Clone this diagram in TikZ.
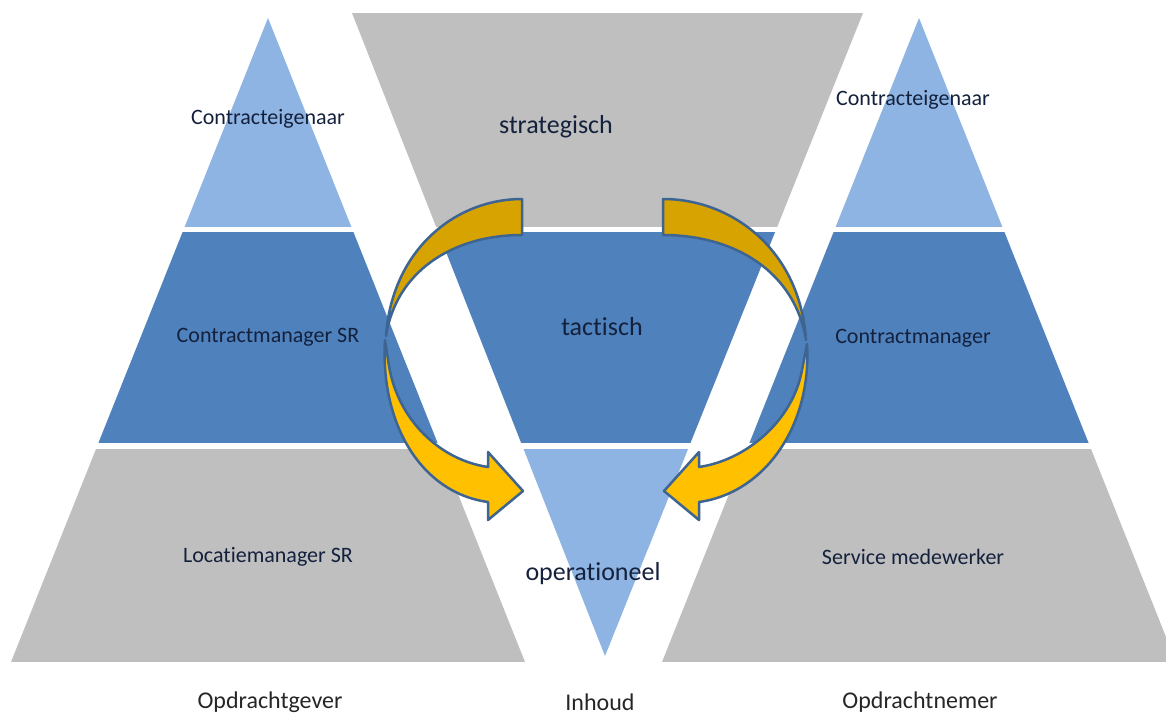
\documentclass[tikz,border=0pt]{standalone}
\usepackage{fontspec}
\setmainfont{Carlito}[Ligatures=NoCommon]
\definecolor{lightb}{HTML}{8EB4E3}
\definecolor{darkb}{HTML}{4F81BD}
\definecolor{greyb}{HTML}{BFBFBF}
\definecolor{goldback}{HTML}{D6A300}
\definecolor{goldfront}{HTML}{FFC000}
\definecolor{arrline}{HTML}{3E6491}
\definecolor{lbl}{HTML}{14213D}
\definecolor{btm}{HTML}{262626}
\begin{document}
\begin{tikzpicture}[x=1pt,y=-1pt,
  sidelbl/.style={inner sep=0pt, text=lbl, font=\fontsize{22}{26}\selectfont},
  midlbl/.style={inner sep=0pt, text=lbl, font=\fontsize{26}{30}\selectfont},
  btmlbl/.style={inner sep=0pt, anchor=base, text=btm, font=\fontsize{24}{28}\selectfont},
  backpart/.style={fill=goldback, draw=arrline, line width=2.5pt, line join=round},
  frontpart/.style={fill=goldfront, draw=arrline, line width=2.5pt, line join=round}]
\useasboundingbox (0,0) rectangle (1166,716);
% left pyramid
\begin{scope}
\clip (268,18) -- (11,662) -- (525,662) -- cycle;
\fill[lightb] (0,0) rectangle (1166,227);
\fill[darkb] (0,232) rectangle (1166,443);
\fill[greyb] (0,449) rectangle (1166,662);
\end{scope}
% middle inverted triangle
\begin{scope}
\clip (352,13) -- (863,13) -- (605,656) -- cycle;
\fill[greyb] (0,0) rectangle (1166,227);
\fill[darkb] (0,232) rectangle (1166,443);
\fill[lightb] (0,449) rectangle (1166,662);
\end{scope}
% right pyramid
\begin{scope}
\clip (919,18) -- (662,662) -- (1176,662) -- cycle;
\fill[lightb] (0,0) rectangle (1166,227);
\fill[darkb] (0,232) rectangle (1166,443);
\fill[greyb] (0,449) rectangle (1166,662);
\end{scope}
% left curved arrow
\draw[backpart] (522,199) .. controls (455,199) and (392,250) .. (386,336)
   .. controls (396,272) and (452,235) .. (522,235) -- cycle;
\draw[frontpart] (385,340) .. controls (380,425) and (422,493) .. (488,502)
   -- (488,520) -- (523,491) -- (488,452) -- (488,467)
   .. controls (440,460) and (398,420) .. (389,366) -- cycle;
% right curved arrow (mirror)
\begin{scope}[shift={(1187,0)}, xscale=-1]
\draw[backpart] (524,199) .. controls (455,199) and (387,250) .. (381,340)
   .. controls (392,272) and (452,235) .. (524,235) -- cycle;
\draw[frontpart] (380,344) .. controls (375,425) and (422,493) .. (488,502)
   -- (488,520) -- (523,491) -- (488,452) -- (488,467)
   .. controls (440,460) and (394,420) .. (385,370) -- cycle;
\end{scope}
% labels
\node[sidelbl] (l1) at (268,119) {Contracteigenaar};
\node[sidelbl] (l2) at (268,337) {Contractmanager SR};
\node[sidelbl] (l3) at (268,557) {Locatiemanager SR};
\node[midlbl] (m1) at (556,127) {strategisch};
\node[midlbl] (m2) at (602,327) {tactisch};
\node[midlbl] (m3) at (593,574) {operationeel};
\node[sidelbl] (r1) at (913,100) {Contracteigenaar};
\node[sidelbl] (r2) at (913,338) {Contractmanager};
\node[sidelbl] (r3) at (913,557) {Service medewerker};
\node[btmlbl] (b1) at (270,708) {Opdrachtgever};
\node[btmlbl] (b2) at (600,710) {Inhoud};
\node[btmlbl] (b3) at (920,708) {Opdrachtnemer};
\end{tikzpicture}
\end{document}
